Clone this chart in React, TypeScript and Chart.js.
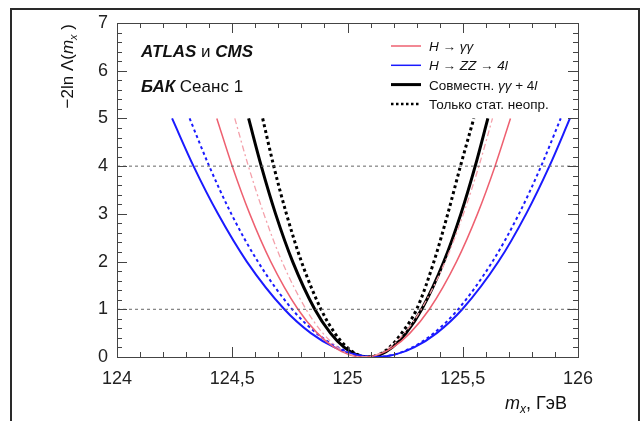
import React, { useEffect, useRef } from 'react';
import { Chart, registerables } from 'chart.js';
Chart.register(...registerables);

// -2 ln Λ levels at which each profile's mass was read (left branch → minimum → right branch)
const profileLevels = [5, 4, 3, 2, 1, 0.5, 0.2, 0.05, 0, 0.05, 0.2, 0.5, 1, 2, 3, 4, 5];

// m_x (GeV) at those levels
const massGammaGamma = [124.433, 124.5, 124.576, 124.667, 124.785, 124.869, 124.943, 125.006, 125.07, 125.134, 125.197, 125.271, 125.355, 125.473, 125.564, 125.64, 125.707];
const massGammaGammaStat = [124.511, 124.57, 124.637, 124.716, 124.82, 124.893, 124.958, 125.014, 125.07, 125.126, 125.182, 125.247, 125.32, 125.424, 125.503, 125.57, 125.629];
const massFourLepton = [124.239, 124.332, 124.438, 124.563, 124.726, 124.841, 124.944, 125.032, 125.12, 125.205, 125.289, 125.387, 125.498, 125.655, 125.775, 125.876, 125.965];
const massFourLeptonStat = [124.315, 124.4, 124.496, 124.611, 124.76, 124.865, 124.959, 125.039, 125.12, 125.201, 125.281, 125.375, 125.48, 125.629, 125.744, 125.84, 125.925];
const massCombined = [124.571, 124.626, 124.688, 124.762, 124.858, 124.926, 124.986, 125.038, 125.09, 125.142, 125.194, 125.254, 125.322, 125.418, 125.492, 125.554, 125.609];
const massCombinedStat = [124.632, 124.68, 124.735, 124.8, 124.885, 124.945, 124.998, 125.044, 125.09, 125.136, 125.182, 125.235, 125.3, 125.375, 125.435, 125.49, 125.548];

const referenceLevels = [1, 4];
const xRange = [124, 126];
const yRange = [0, 7];

const FONT = "'Liberation Sans', Arial, sans-serif";

type Seg = { t: string; style?: string; size?: number; dy?: number };

const experimentLines: Seg[][] = [
  [{ t: 'ATLAS', style: 'italic bold' }, { t: ' и ', style: 'normal' }, { t: 'CMS', style: 'italic bold' }],
  [{ t: 'БАК', style: 'italic bold' }, { t: ' Сеанс 1', style: 'normal' }],
];

const legendLabels: Seg[][] = [
  [{ t: 'H → γγ', style: 'italic' }],
  [{ t: 'H → ZZ → 4l', style: 'italic' }],
  [{ t: 'Совместн. ', style: 'normal' }, { t: 'γγ', style: 'italic' }, { t: ' + 4', style: 'normal' }, { t: 'l', style: 'italic' }],
  [{ t: 'Только стат. неопр.', style: 'normal' }],
];
const legendStyles = [
  { color: '#ee6070', width: 1.5, dash: [] as number[] },
  { color: '#1a1aff', width: 1.5, dash: [] as number[] },
  { color: '#000000', width: 3, dash: [] as number[] },
  { color: '#000000', width: 2.5, dash: [2.5, 2.5] },
];

function drawSegs(ctx: CanvasRenderingContext2D, x: number, y: number, segs: Seg[], baseSize: number, align: 'left' | 'right' = 'left') {
  const fontOf = (s: Seg) => `${s.style || 'normal'} ${s.size || baseSize}px ${FONT}`;
  let total = 0;
  for (const s of segs) {
    ctx.font = fontOf(s);
    total += ctx.measureText(s.t).width;
  }
  let cx = align === 'right' ? x - total : x;
  ctx.textAlign = 'left';
  ctx.textBaseline = 'alphabetic';
  for (const s of segs) {
    ctx.font = fontOf(s);
    ctx.fillText(s.t, cx, y + (s.dy || 0));
    cx += ctx.measureText(s.t).width;
  }
}

const decorPlugin = {
  id: 'decor',
  beforeDraw(chart: any) {
    const ctx = chart.ctx as CanvasRenderingContext2D;
    ctx.save();
    ctx.fillStyle = '#ffffff';
    ctx.fillRect(0, 0, chart.width, chart.height);
    ctx.strokeStyle = '#2a2a2a';
    ctx.lineWidth = 2;
    ctx.beginPath();
    ctx.moveTo(11, chart.height);
    ctx.lineTo(11, 9);
    ctx.lineTo(639, 9);
    ctx.lineTo(639, chart.height);
    ctx.stroke();
    ctx.restore();
  },
  afterDraw(chart: any) {
    const ctx = chart.ctx as CanvasRenderingContext2D;
    const xs = chart.scales.x;
    const ys = chart.scales.y;
    const a = chart.chartArea;
    ctx.save();
    // frame
    ctx.strokeStyle = '#444';
    ctx.lineWidth = 1;
    ctx.strokeRect(Math.round(a.left) + 0.5, Math.round(a.top) + 0.5, Math.round(a.right - a.left), Math.round(a.bottom - a.top));
    // ticks
    ctx.beginPath();
    for (let i = 0; i <= 20; i++) {
      const v = xRange[0] + i * 0.1;
      const px = Math.round(xs.getPixelForValue(v)) + 0.5;
      const len = i % 5 === 0 ? 10 : 5;
      ctx.moveTo(px, a.bottom);
      ctx.lineTo(px, a.bottom - len);
      ctx.moveTo(px, a.top);
      ctx.lineTo(px, a.top + len);
    }
    for (let i = 0; i <= 35; i++) {
      const v = i * 0.2;
      const py = Math.round(ys.getPixelForValue(v)) + 0.5;
      const len = i % 5 === 0 ? 10 : 5;
      ctx.moveTo(a.left, py);
      ctx.lineTo(a.left + len, py);
      ctx.moveTo(a.right, py);
      ctx.lineTo(a.right - len, py);
    }
    ctx.stroke();

    // experiment labels
    ctx.fillStyle = '#111';
    drawSegs(ctx, 141, 57, experimentLines[0], 17);
    drawSegs(ctx, 141, 92, experimentLines[1], 17);

    // legend
    for (let i = 0; i < legendLabels.length; i++) {
      const y = 46 + i * 19.3;
      const st = legendStyles[i];
      ctx.strokeStyle = st.color;
      ctx.lineWidth = st.width;
      ctx.setLineDash(st.dash);
      ctx.beginPath();
      ctx.moveTo(391, y);
      ctx.lineTo(421, y);
      ctx.stroke();
      ctx.setLineDash([]);
      ctx.fillStyle = '#111';
      drawSegs(ctx, 429, y + 5, legendLabels[i], 13.5);
    }

    // x title
    ctx.fillStyle = '#111';
    drawSegs(ctx, 567, 409, [
      { t: 'm', style: 'italic' },
      { t: 'x', style: 'italic', size: 12, dy: 4 },
      { t: ', ГэВ', style: 'normal' },
    ], 18, 'right');

    // y title (rotated)
    ctx.translate(73, 24);
    ctx.rotate(-Math.PI / 2);
    drawSegs(ctx, 0, 0, [
      { t: '−2ln Λ(', style: 'normal' },
      { t: 'm', style: 'italic' },
      { t: 'x', style: 'italic', size: 11, dy: 4 },
      { t: ' )', style: 'normal' },
    ], 17, 'right');
    ctx.restore();
  },
};

function toPoints(xsArr: number[]) {
  return xsArr.map((x, i) => ({ x, y: profileLevels[i] }));
}

export default function App() {
  const ref = useRef<HTMLCanvasElement | null>(null);
  useEffect(() => {
    if (!ref.current) return;
    const curve = (label: string, data: number[], color: string, width: number, dash: number[]) => ({
      label,
      data: toPoints(data),
      borderColor: color,
      borderWidth: width,
      borderDash: dash,
      pointRadius: 0,
      showLine: true,
      fill: false,
      cubicInterpolationMode: 'monotone' as const,
    });
    const refLines = referenceLevels.map((lv) => ({
      label: 'ref' + lv,
      data: [{ x: xRange[0], y: lv }, { x: xRange[1], y: lv }],
      borderColor: '#666',
      borderWidth: 1,
      borderDash: [3, 3],
      pointRadius: 0,
      showLine: true,
      fill: false,
    }));
    const chart = new Chart(ref.current, {
      type: 'scatter',
      data: {
        datasets: [
          ...refLines,
          curve('H→γγ стат', massGammaGammaStat, '#f4a0aa', 1.3, [6, 3, 2, 3]),
          curve('H→γγ', massGammaGamma, '#ee6070', 1.5, []),
          curve('H→4l стат', massFourLeptonStat, '#1a1aff', 2, [3, 3]),
          curve('H→4l', massFourLepton, '#1a1aff', 2, []),
          curve('Совместн.', massCombined, '#000000', 3, []),
          curve('Стат.', massCombinedStat, '#000000', 3, [3, 3]),
        ] as any,
      },
      options: {
        responsive: false,
        animation: false,
        devicePixelRatio: 1,
        layout: { padding: { top: 23, right: 64, left: 0, bottom: 0 } },
        plugins: { legend: { display: false }, tooltip: { enabled: false } },
        scales: {
          x: {
            type: 'linear',
            min: xRange[0],
            max: xRange[1],
            border: { display: false },
            grid: { display: false, drawTicks: false },
            ticks: {
              stepSize: 0.5,
              padding: 11,
              color: '#222',
              font: { size: 18, family: FONT },
              callback: (v: any) => String(Number(v)).replace('.', ','),
              maxRotation: 0,
            },
            afterFit: (s: any) => { s.height = 64; },
          },
          y: {
            type: 'linear',
            min: yRange[0],
            max: yRange[1],
            border: { display: false },
            grid: { display: false, drawTicks: false },
            ticks: { stepSize: 1, padding: 9, color: '#222', font: { size: 18, family: FONT } },
            afterFit: (s: any) => { s.width = 117; },
          },
        },
      } as any,
      plugins: [decorPlugin],
    });
    return () => chart.destroy();
  }, []);
  return (
    <div style={{ position: 'absolute', left: 0, top: 0 }}>
      <canvas ref={ref} width={642} height={421} style={{ display: 'block', width: 642, height: 421 }} />
    </div>
  );
}
